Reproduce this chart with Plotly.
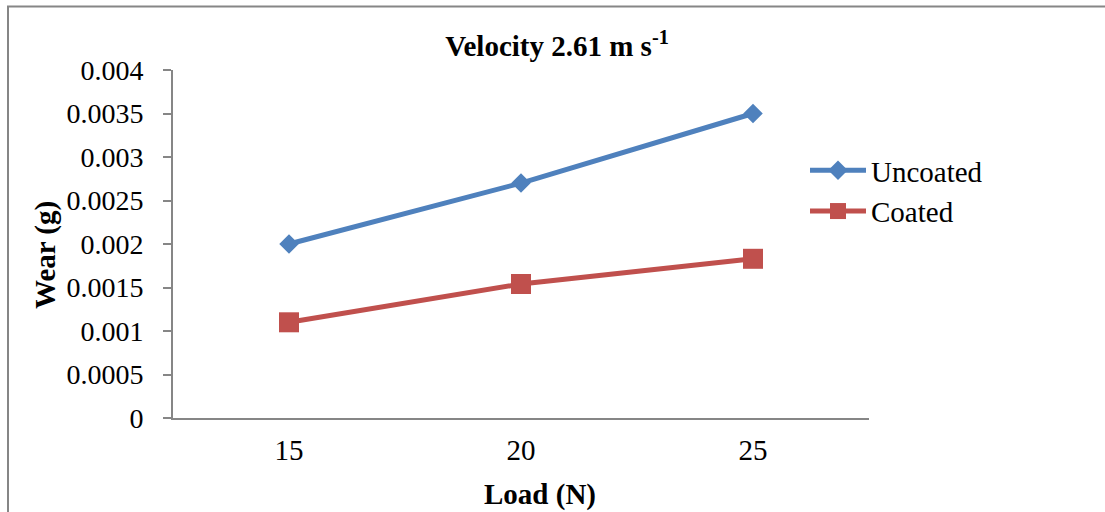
import plotly.graph_objects as go

loads = ["15", "20", "25"]
uncoated = [0.0020, 0.0027, 0.0035]
coated = [0.0011, 0.00154, 0.00183]

FONT = "Liberation Serif, Times New Roman, serif"
FS = 29
AXIS_GRAY = "#868686"

fig = go.Figure()
fig.add_trace(go.Scatter(
    x=loads, y=uncoated, name="Uncoated", mode="lines+markers",
    line=dict(color="#4F81BD", width=5),
    marker=dict(symbol="diamond", size=15, color="#4F81BD"),
    legendgroup="a",
))
fig.add_trace(go.Scatter(
    x=loads, y=coated, name="Coated", mode="lines+markers",
    line=dict(color="#C0504D", width=5),
    marker=dict(symbol="square", size=20, color="#C0504D"),
    legendgroup="b",
))

W, H = 1105, 512
L, R, T, B = 173, 869, 70, 418

fig.update_layout(
    width=W, height=H,
    margin=dict(l=L, r=W - R, t=T, b=H - B, autoexpand=False),
    paper_bgcolor="white", plot_bgcolor="white",
    font=dict(family=FONT, size=FS, color="black"),
    title=dict(
        text="<b>Velocity 2.61 m s<sup>-1</sup></b>",
        font=dict(family=FONT, size=FS, color="black"),
        x=557 / W, xanchor="center", y=1 - 46 / H, yanchor="middle",
    ),
    xaxis=dict(
        type="category", range=[-0.5, 2.5],
        showline=True, linecolor=AXIS_GRAY, linewidth=2,
        showgrid=False, zeroline=False, ticks="",
        tickfont=dict(family=FONT, size=FS, color="black"),
        ticklabelstandoff=5,
    ),
    yaxis=dict(
        range=[0, 0.004], tickvals=[0, 0.0005, 0.001, 0.0015, 0.002, 0.0025, 0.003, 0.0035, 0.004],
        ticktext=["0", "0.0005", "0.001", "0.0015", "0.002", "0.0025", "0.003", "0.0035", "0.004"],
        showline=True, linecolor=AXIS_GRAY, linewidth=2,
        ticks="outside", ticklen=8, tickcolor=AXIS_GRAY, tickwidth=2,
        showgrid=False, zeroline=False,
        tickfont=dict(family=FONT, size=28, color="black"),
        ticklabelstandoff=14,
    ),
    showlegend=True,
    legend=dict(
        x=(805 - L) / (R - L), xanchor="left",
        y=(B - 145) / (B - T), yanchor="top",
        font=dict(family=FONT, size=FS, color="black"),
        bgcolor="rgba(0,0,0,0)", traceorder="grouped", tracegroupgap=0,
        itemwidth=56,
    ),
)

fig.add_annotation(
    text="<b>Wear (g)</b>", xref="paper", yref="paper",
    x=(46 - L) / (R - L), y=(B - 255) / (B - T), textangle=-90,
    showarrow=False, font=dict(family=FONT, size=FS, color="black"),
    xanchor="center", yanchor="middle",
)
fig.add_annotation(
    text="<b>Load (N)</b>", xref="paper", yref="paper",
    x=(540 - L) / (R - L), y=(B - 494) / (B - T),
    showarrow=False, font=dict(family=FONT, size=FS, color="black"),
    xanchor="center", yanchor="middle",
)

# outer chart border (top & left visible; right/bottom lie outside the canvas)
fig.add_shape(
    type="rect", xref="paper", yref="paper",
    x0=(8 - L) / (R - L), x1=1.6, y0=-0.6, y1=(B - 6.5) / (B - T),
    line=dict(color=AXIS_GRAY, width=2), layer="below",
)

fig.write_html("out.html")
